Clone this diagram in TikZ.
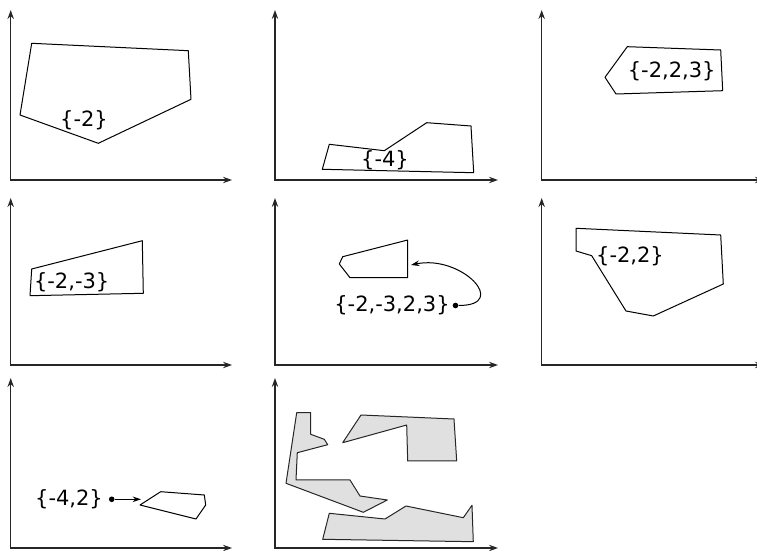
\documentclass[tikz,border=0pt]{standalone}
\usepackage{fontspec}
\setmainfont{DejaVu Sans}
\usetikzlibrary{arrows.meta,positioning}
\tikzset{axes/.style={{Stealth[length=4.5pt,width=3.2pt]}-{Stealth[length=4.5pt,width=3.2pt]}, draw=black!85, line width=0.7pt},
  poly/.style={draw, line width=0.5pt, line join=round},
  region/.style={poly, fill=black!12, draw=black!85},
  lbl/.style={font=\fontsize{10.5}{12}\selectfont, inner sep=0pt},
  dotnode/.style={circle, fill, inner sep=0pt, minimum size=2.8pt},
  pin/.style={-{Stealth[length=4.2pt,width=2.8pt]}, line width=0.5pt}}

\begin{document}
\begin{tikzpicture}[x=0.5pt, y=-0.5pt]
  \useasboundingbox (0,0) rectangle (757,551);
  % {-2}
  \draw[axes] (10.7,10) |- (232,180);
  \draw[poly] (31.7,43.3) -- (188.3,50.7) -- (191,99.3) -- (98.3,143.3) -- (20,115) -- cycle;
  \node[lbl] (lbla) at (84,120) {\{-2\}};
  % {-4}
  \draw[axes] (275,10) |- (498,180);
  \draw[poly] (329.3,144.3) -- (384.3,150.7) -- (426.7,122.7) -- (471,126) -- (473.7,172.7) -- (322.3,169.3) -- cycle;
  \node[lbl] (lblb) at (385,160) {\{-4\}};
  % {-2,2,3}
  \draw[axes] (541.7,10) |- (764,180);
  \draw[poly] (627.3,46.7) -- (720.7,50) -- (722.7,90.7) -- (616,94) -- (605,77.3) -- cycle;
  \node[lbl] (lblc) at (671.7,71.7) {\{-2,2,3\}};
  % {-2,-3}
  \draw[axes] (10.7,198) |- (232,365);
  \draw[poly] (31.7,269) -- (142.3,240.7) -- (143.3,293.3) -- (30,295.7) -- cycle;
  \node[lbl] (lbld) at (71.7,282.7) {\{-2,-3\}};
  % {-2,-3,2,3}
  \draw[axes] (275,198) |- (498,365);
  \draw[poly] (342.7,256.7) -- (407.7,240) -- (407.7,277.7) -- (350,277.7) -- (339.3,264) -- cycle;
  \node[lbl] (lble) at (392,305.5) {\{-2,-3,2,3\}};
  \node[dotnode] (dote) at (455.5,305.5) {};
  \coordinate (tipe) at (411,265);
  \draw[pin] (dote) to[out=0, in=12, looseness=2.1] (tipe);
  % {-2,2}
  \draw[axes] (541.7,198) |- (764,365);
  \draw[poly] (576,228.3) -- (720.7,235) -- (723.3,284) -- (653.3,316) -- (626,311) -- (591.7,255.7) -- (576,251) -- cycle;
  \node[lbl] (lblf) at (630,256.7) {\{-2,2\}};
  % {-4,2}
  \draw[axes] (10.7,378) |- (232,548);
  \draw[poly] (160.7,491.7) -- (204.3,495) -- (205.7,505) -- (196,519) -- (140,505) -- cycle;
  \node[lbl] (lblg) at (69,499.3) {\{-4,2\}};
  \node[dotnode] (dotg) at (111.7,499.3) {};
  \coordinate (tipg) at (141,499.3);
  \draw[pin] (dotg) -- (tipg);
  % all regions
  \draw[axes] (275,378) |- (498,548);
  \draw[region] (296.7,412.7) -- (310.7,412.7) -- (310.7,434.3) -- (324.3,439.3) -- (327.7,444.7) -- (297.3,452.7) -- (296,480) -- (350,480) -- (360,496) -- (387.3,500) -- (363.3,512.3) -- (286,483.3) -- cycle;
  \draw[region] (361,415) -- (454,419) -- (456.7,461) -- (407.7,461) -- (406.7,425) -- (342.7,442.7) -- cycle;
  \draw[region] (329.3,513.3) -- (385,519) -- (406,506) -- (463.3,517.7) -- (472,505.3) -- (473.3,541.7) -- (322.7,539.3) -- cycle;
\end{tikzpicture}
\end{document}
